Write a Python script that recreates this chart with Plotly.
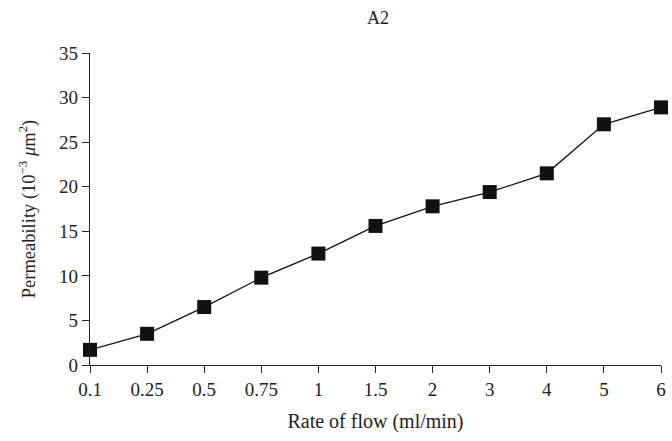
import plotly.graph_objects as go

# Flow-rate categories (ml/min) and measured permeability (10^-3 μm²)
flow_rates = ["0.1", "0.25", "0.5", "0.75", "1", "1.5", "2", "3", "4", "5", "6"]
permeability = [1.7, 3.5, 6.5, 9.8, 12.5, 15.6, 17.8, 19.4, 21.5, 27.0, 28.9]
y_ticks = [0, 5, 10, 15, 20, 25, 30, 35]

FONT = "Liberation Serif"
INK = "#222222"

fig = go.Figure(
    go.Scatter(
        x=flow_rates,
        y=permeability,
        mode="lines+markers",
        line=dict(color="#111111", width=1.3),
        marker=dict(symbol="square", size=14, color="#111111"),
        cliponaxis=False,
    )
)

fig.update_layout(
    width=672,
    height=441,
    margin=dict(l=90, r=6, t=53, b=76),
    paper_bgcolor="white",
    plot_bgcolor="white",
    showlegend=False,
    font=dict(family=FONT, size=18, color=INK),
    title=dict(
        text="A2",
        x=378 / 672,
        xanchor="center",
        y=1 - 18 / 441,
        yanchor="middle",
        font=dict(family=FONT, size=18, color=INK),
    ),
)

fig.update_xaxes(
    type="category",
    range=[0, len(flow_rates) - 1],
    showline=True,
    linecolor=INK,
    linewidth=1.3,
    ticks="outside",
    ticklen=7,
    tickwidth=1.2,
    tickcolor=INK,
    tickfont=dict(family=FONT, size=19, color=INK),
    showgrid=False,
    zeroline=False,
    title=dict(text="Rate of flow (ml/min)", standoff=15,
               font=dict(family=FONT, size=20, color=INK)),
)

fig.update_yaxes(
    range=[0, 35],
    tickvals=y_ticks,
    showline=True,
    linecolor=INK,
    linewidth=1.3,
    ticks="outside",
    ticklen=7,
    tickwidth=1.2,
    tickcolor=INK,
    tickfont=dict(family=FONT, size=19, color=INK),
    showgrid=False,
    zeroline=False,
    title=dict(text="Permeability (10<sup>−3</sup> <i>μ</i>m<sup>2</sup>)", standoff=18,
               font=dict(family=FONT, size=18.5, color=INK)),
)

fig.write_html("out.html")
